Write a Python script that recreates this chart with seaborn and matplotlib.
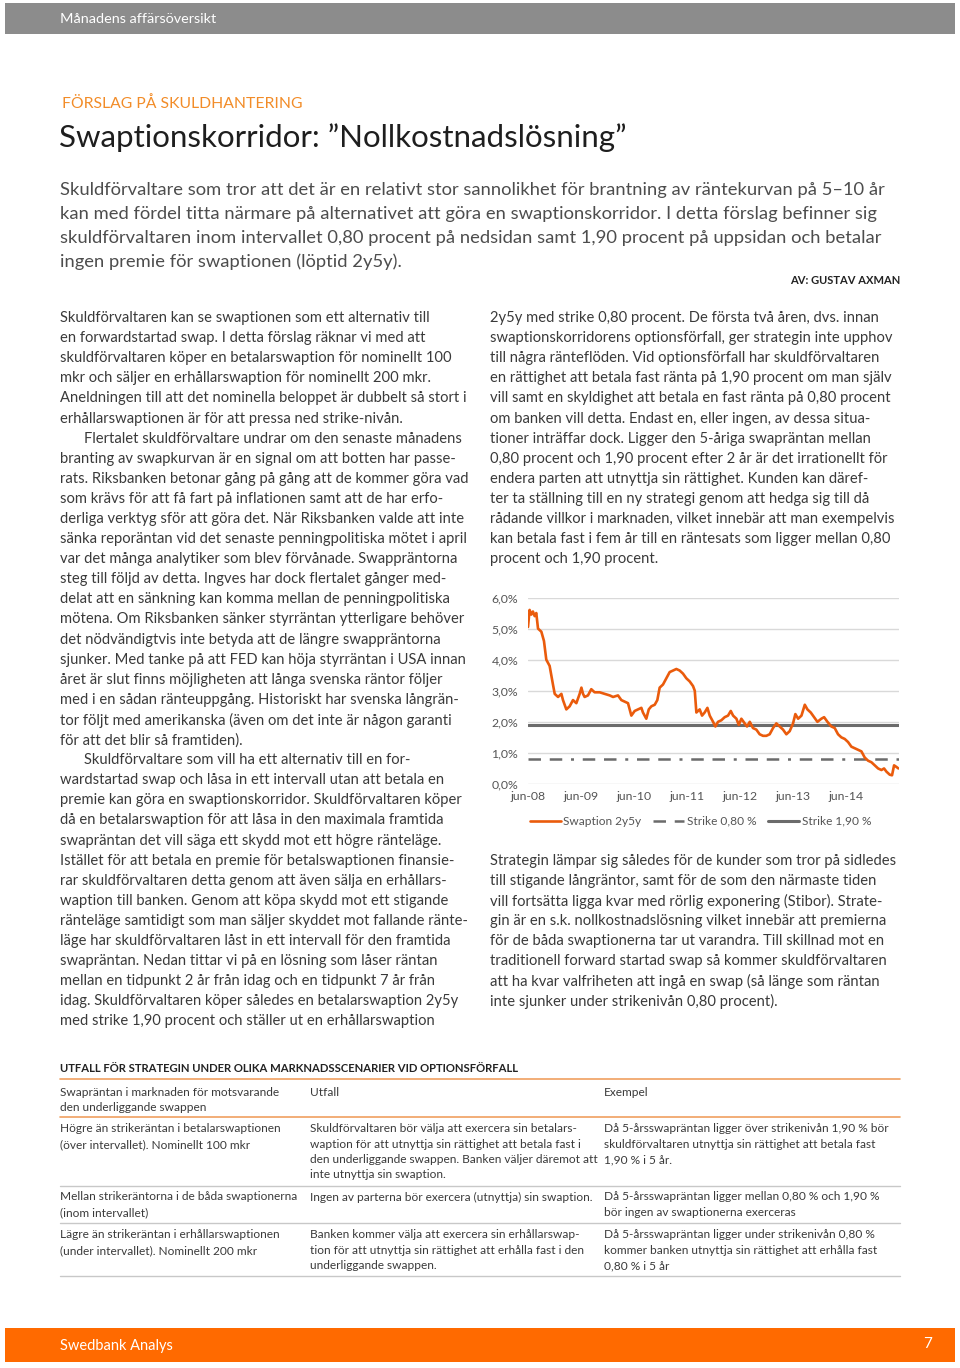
import pandas as pd
import matplotlib.pyplot as plt
from matplotlib.ticker import FuncFormatter
from matplotlib.patches import Rectangle
from matplotlib.lines import Line2D
import seaborn as sns

sns.set_style("white")
plt.rcParams['font.family'] = ['Lato', 'DejaVu Sans']

# --- chart data ---
swap_dates = [
    '2008-06-01', '2008-06-12', '2008-06-24', '2008-07-05', '2008-07-17', '2008-07-28',
    '2008-08-09', '2008-09-01', '2008-09-19', '2008-10-05', '2008-10-28', '2008-11-20',
    '2008-12-02', '2008-12-25', '2009-01-17', '2009-01-28', '2009-02-20', '2009-03-15',
    '2009-04-07', '2009-04-30', '2009-05-23', '2009-06-04', '2009-06-15', '2009-06-26',
    '2009-07-19', '2009-08-11', '2009-09-03', '2009-10-08', '2009-11-11', '2009-12-16',
    '2010-01-08', '2010-02-11', '2010-03-06', '2010-03-29', '2010-04-21', '2010-05-14',
    '2010-06-06', '2010-06-29', '2010-07-22', '2010-08-02', '2010-08-25', '2010-09-11',
    '2010-09-29', '2010-10-22', '2010-11-09', '2010-11-25', '2010-12-18', '2011-01-10',
    '2011-02-02', '2011-02-25', '2011-03-20', '2011-04-12', '2011-05-05', '2011-05-28',
    '2011-06-20', '2011-07-13', '2011-07-25', '2011-08-05', '2011-08-28', '2011-09-13',
    '2011-10-01', '2011-10-20', '2011-11-05', '2011-11-28', '2011-12-14', '2012-01-01',
    '2012-01-24', '2012-02-16', '2012-03-10', '2012-03-29', '2012-04-14', '2012-05-07',
    '2012-05-23', '2012-06-10', '2012-07-03', '2012-07-19', '2012-08-07', '2012-08-29',
    '2012-09-21', '2012-10-14', '2012-11-06', '2012-11-29', '2012-12-22', '2013-01-14',
    '2013-02-06', '2013-03-01', '2013-03-24', '2013-04-16', '2013-05-09', '2013-06-01',
    '2013-06-17', '2013-07-06', '2013-07-29', '2013-08-21', '2013-09-08', '2013-10-01',
    '2013-10-24', '2013-11-16', '2013-12-13', '2014-01-01', '2014-01-24', '2014-02-20',
    '2014-03-15', '2014-04-07', '2014-04-30', '2014-05-23', '2014-06-15', '2014-07-08',
    '2014-07-31', '2014-08-23', '2014-09-15', '2014-10-08', '2014-10-31', '2014-11-23',
    '2014-12-16', '2015-01-08', '2015-01-31', '2015-02-18', '2015-03-06', '2015-03-29',
    '2015-04-14', '2015-04-28', '2015-05-14', '2015-05-28',
]
swap_values = [
    5.05, 5.60, 5.45, 5.55, 5.40, 5.50,
    5.00, 4.90, 4.60, 4.00, 3.80, 3.20,
    2.90, 2.80, 2.90, 2.70, 2.40, 2.50,
    2.70, 2.60, 2.90, 3.10, 2.90, 2.80,
    2.85, 3.05, 2.95, 2.95, 2.90, 2.85,
    2.80, 2.85, 2.70, 2.65, 2.60, 2.20,
    2.35, 2.40, 2.45, 2.30, 2.10, 2.40,
    2.50, 2.55, 2.70, 3.10, 3.20, 3.40,
    3.60, 3.65, 3.70, 3.65, 3.55, 3.40,
    3.30, 3.15, 3.00, 2.30, 2.40, 2.20,
    2.30, 2.45, 2.20, 2.00, 1.85, 2.00,
    2.05, 2.15, 2.20, 2.35, 2.20, 2.10,
    1.90, 2.10, 1.95, 1.85, 2.00, 1.80,
    1.75, 1.60, 1.55, 1.55, 1.60, 1.80,
    1.95, 1.85, 1.75, 1.60, 1.70, 1.95,
    2.25, 2.10, 2.20, 2.55, 2.40, 2.30,
    2.15, 2.00, 2.10, 2.15, 2.00, 1.85,
    1.80, 1.60, 1.50, 1.45, 1.35, 1.20,
    1.15, 1.10, 1.05, 0.85, 0.75, 0.70,
    0.60, 0.50, 0.45, 0.50, 0.40, 0.30,
    0.28, 0.60, 0.55, 0.50,
]
strike_low = 0.80
strike_high = 1.90
period = ['2008-06-01', '2015-06-01']
tick_dates = ['2008-06-01', '2009-06-01', '2010-06-01', '2011-06-01',
              '2012-06-01', '2013-06-01', '2014-06-01']
tick_labels = ['jun-08', 'jun-09', 'jun-10', 'jun-11', 'jun-12', 'jun-13', 'jun-14']
y_ticks = [0, 1, 2, 3, 4, 5, 6]
legend_labels = ['Swaption 2y5y', 'Strike 0,80 %', 'Strike 1,90 %']

# --- page text ---
header_text = 'Månadens affärsöversikt'
kicker = 'FÖRSLAG PÅ SKULDHANTERING'
title = 'Swaptionskorridor: ”Nollkostnadslösning”'
intro_lines = [
    'Skuldförvaltare som tror att det är en relativt stor sannolikhet för brantning av räntekurvan på 5–10 år',
    'kan med fördel titta närmare på alternativet att göra en swaptionskorridor. I detta förslag befinner sig',
    'skuldförvaltaren inom intervallet 0,80 procent på nedsidan samt 1,90 procent på uppsidan och betalar',
    'ingen premie för swaptionen (löptid 2y5y).',
]
byline = 'AV: GUSTAV AXMAN'

left_lines = [
    'Skuldförvaltaren kan se swaptionen som ett alternativ till',
    'en forwardstartad swap. I detta förslag räknar vi med att',
    'skuldförvaltaren köper en betalarswaption för nominellt 100',
    'mkr och säljer en erhållarswaption för nominellt 200 mkr.',
    'Aneldningen till att det nominella beloppet är dubbelt så stort i',
    'erhållarswaptionen är för att pressa ned strike-nivån.',
    'Flertalet skuldförvaltare undrar om den senaste månadens',
    'branting av swapkurvan är en signal om att botten har passe-',
    'rats. Riksbanken betonar gång på gång att de kommer göra vad',
    'som krävs för att få fart på inflationen samt att de har erfo-',
    'derliga verktyg sför att göra det. När Riksbanken valde att inte',
    'sänka reporäntan vid det senaste penningpolitiska mötet i april',
    'var det många analytiker som blev förvånade. Swappräntorna',
    'steg till följd av detta. Ingves har dock flertalet gånger med-',
    'delat att en sänkning kan komma mellan de penningpolitiska',
    'mötena. Om Riksbanken sänker styrräntan ytterligare behöver',
    'det nödvändigtvis inte betyda att de längre swappräntorna',
    'sjunker. Med tanke på att FED kan höja styrräntan i USA innan',
    'året är slut finns möjligheten att långa svenska räntor följer',
    'med i en sådan ränteuppgång. Historiskt har svenska långrän-',
    'tor följt med amerikanska (även om det inte är någon garanti',
    'för att det blir så framtiden).',
    'Skuldförvaltare som vill ha ett alternativ till en for-',
    'wardstartad swap och låsa in ett intervall utan att betala en',
    'premie kan göra en swaptionskorridor. Skuldförvaltaren köper',
    'då en betalarswaption för att låsa in den maximala framtida',
    'swapräntan det vill säga ett skydd mot ett högre ränteläge.',
    'Istället för att betala en premie för betalswaptionen finansie-',
    'rar skuldförvaltaren detta genom att även sälja en erhållars-',
    'waption till banken. Genom att köpa skydd mot ett stigande',
    'ränteläge samtidigt som man säljer skyddet mot fallande ränte-',
    'läge har skuldförvaltaren låst in ett intervall för den framtida',
    'swapräntan. Nedan tittar vi på en lösning som låser räntan',
    'mellan en tidpunkt 2 år från idag och en tidpunkt 7 år från',
    'idag. Skuldförvaltaren köper således en betalarswaption 2y5y',
    'med strike 1,90 procent och ställer ut en erhållarswaption',
]
left_indented = [6, 22]

right_lines_top = [
    '2y5y med strike 0,80 procent. De första två åren, dvs. innan',
    'swaptionskorridorens optionsförfall, ger strategin inte upphov',
    'till några ränteflöden. Vid optionsförfall har skuldförvaltaren',
    'en rättighet att betala fast ränta på 1,90 procent om man själv',
    'vill samt en skyldighet att betala en fast ränta på 0,80 procent',
    'om banken vill detta. Endast en, eller ingen, av dessa situa-',
    'tioner inträffar dock. Ligger den 5-åriga swapräntan mellan',
    '0,80 procent och 1,90 procent efter 2 år är det irrationellt för',
    'endera parten att utnyttja sin rättighet. Kunden kan däref-',
    'ter ta ställning till en ny strategi genom att hedga sig till då',
    'rådande villkor i marknaden, vilket innebär att man exempelvis',
    'kan betala fast i fem år till en räntesats som ligger mellan 0,80',
    'procent och 1,90 procent.',
]
right_lines_bottom = [
    'Strategin lämpar sig således för de kunder som tror på sidledes',
    'till stigande långräntor, samt för de som den närmaste tiden',
    'vill fortsätta ligga kvar med rörlig exponering (Stibor). Strate-',
    'gin är en s.k. nollkostnadslösning vilket innebär att premierna',
    'för de båda swaptionerna tar ut varandra. Till skillnad mot en',
    'traditionell forward startad swap så kommer skuldförvaltaren',
    'att ha kvar valfriheten att ingå en swap (så länge som räntan',
    'inte sjunker under strikenivån 0,80 procent).',
]

table_title = 'UTFALL FÖR STRATEGIN UNDER OLIKA MARKNADSSCENARIER VID OPTIONSFÖRFALL'
table_header = [
    ['Swapräntan i marknaden för motsvarande', 'den underliggande swappen'],
    ['Utfall'],
    ['Exempel'],
]
table_rows = [
    [['Högre än strikeräntan i betalarswaptionen', '(över intervallet). Nominellt 100 mkr'],
     ['Skuldförvaltaren bör välja att exercera sin betalars-',
      'waption för att utnyttja sin rättighet att betala fast i',
      'den underliggande swappen. Banken väljer däremot att',
      'inte utnyttja sin swaption.'],
     ['Då 5-årsswapräntan ligger över strikenivån 1,90 % bör',
      'skuldförvaltaren utnyttja sin rättighet att betala fast',
      '1,90 % i 5 år.']],
    [['Mellan strikeräntorna i de båda swaptionerna', '(inom intervallet)'],
     ['Ingen av parterna bör exercera (utnyttja) sin swaption.'],
     ['Då 5-årsswapräntan ligger mellan 0,80 % och 1,90 %',
      'bör ingen av swaptionerna exerceras']],
    [['Lägre än strikeräntan i erhållarswaptionen', '(under intervallet). Nominellt 200 mkr'],
     ['Banken kommer välja att exercera sin erhållarswap-',
      'tion för att utnyttja sin rättighet att erhålla fast i den',
      'underliggande swappen.'],
     ['Då 5-årsswapräntan ligger under strikenivån 0,80 %',
      'kommer banken utnyttja sin rättighet att erhålla fast',
      '0,80 % i 5 år']],
]
footer_text = 'Swedbank Analys'
page_no = '7'

# --- colours ---
LINE_ORANGE = '#ea5b0c'
GREY_BAR = '#8c8c8c'
STRIKE_GREY = '#6b6b6b'
BODY = '#3a3a3a'

W, H = 960, 1368
fig = plt.figure(figsize=(W / 100, H / 100), dpi=100)
fig.patch.set_facecolor('white')


def put(x, y, s, **kw):
    kw.setdefault('va', 'center')
    fig.text(x / W, 1 - y / H, s, **kw)


def hline(x0, x1, y, color, lw=1.0):
    fig.add_artist(Line2D([x0 / W, x1 / W], [1 - y / H, 1 - y / H], color=color, lw=lw))


def box(x0, y0, x1, y1, color):
    fig.add_artist(Rectangle((x0 / W, 1 - y1 / H), (x1 - x0) / W, (y1 - y0) / H,
                             facecolor=color, edgecolor='none'))


# header / footer bars
box(5, 3, 955, 34, GREY_BAR)
put(60, 19, header_text, color='white', fontsize=10.4)
box(5, 1328, 955, 1362, '#ff6a00')
put(60, 1346, footer_text, color='white', fontsize=10.5)
put(932, 1344, page_no, color='white', fontsize=11, ha='right')

# headline block
put(62, 104, kicker, color='#f28c28', fontsize=11.3)
put(59, 138, title, color='#1e1e1e', fontsize=22.5)
for i, line in enumerate(intro_lines):
    put(60, 190 + 24 * i, line, color='#4d4d4d', fontsize=13.2)
put(900, 280, byline, color='#222222', fontsize=8, fontweight='bold', ha='right')

# body columns
BODY_SIZE = 10.6
for i, line in enumerate(left_lines):
    x = 84 if i in left_indented else 60
    put(x, 318 + 20.1 * i, line, color=BODY, fontsize=BODY_SIZE)
for i, line in enumerate(right_lines_top):
    put(490, 318 + 20.1 * i, line, color=BODY, fontsize=BODY_SIZE)
for i, line in enumerate(right_lines_bottom):
    put(490, 861 + 20.1 * i, line, color=BODY, fontsize=BODY_SIZE)

# --- chart ---
ax = fig.add_axes([528 / W, 1 - 784 / H, (899 - 528) / W, (784 - 597.5) / H])
swap = pd.DataFrame({'date': pd.to_datetime(swap_dates), 'rate': swap_values})
strikes = pd.DataFrame({'date': pd.to_datetime(period),
                        'low': [strike_low] * 2, 'high': [strike_high] * 2})

sns.lineplot(data=strikes, x='date', y='high', color=STRIKE_GREY, lw=2.2, ax=ax)
h_high = ax.lines[-1]
sns.lineplot(data=strikes, x='date', y='low', color=STRIKE_GREY, lw=1.8, ax=ax)
h_low = ax.lines[-1]
h_low.set_dashes([5, 3.5, 5, 3.5, 1.2, 3.5])
sns.lineplot(data=swap, x='date', y='rate', color=LINE_ORANGE, lw=1.9, ax=ax)
h_swap = ax.lines[-1]

ax.set_xlim(pd.Timestamp(period[0]), pd.Timestamp(period[1]))
ax.set_ylim(0, 6)
ax.set_xticks(pd.to_datetime(tick_dates))
ax.set_xticklabels(tick_labels)
ax.set_yticks(y_ticks)
ax.yaxis.set_major_formatter(FuncFormatter(lambda v, p: f'{v:.1f}%'.replace('.', ',')))
ax.set_xlabel('')
ax.set_ylabel('')
ax.yaxis.grid(True, color='#d9d9d9', lw=1)
ax.xaxis.grid(False)
for s in ax.spines.values():
    s.set_visible(False)
ax.tick_params(axis='both', length=0, labelsize=8.8, colors='#555555')
ax.tick_params(axis='x', pad=5)
ax.tick_params(axis='y', pad=7)
ax.legend([h_swap, h_low, h_high], legend_labels, loc='center', bbox_to_anchor=(0.465, -0.2),
          ncol=3, frameon=False, fontsize=8.6, labelcolor='#555555',
          handlelength=2.6, handletextpad=0.2, columnspacing=1.0)

# --- table ---
TBL = 8.6
put(60, 1068, table_title, color='#222222', fontsize=8.1, fontweight='bold')
hline(60, 900, 1079, '#f0a060', 1.2)
col_x = [60, 310, 604]
for cx, cell in zip(col_x, table_header):
    for j, line in enumerate(cell):
        put(cx, 1092 + 15.3 * j, line, color=BODY, fontsize=TBL)
hline(60, 900, 1117, '#f0a060', 1.2)

row_tops = [1129, 1197, 1235]
row_lines = [1186, 1223, 1276]
for top, bottom, row in zip(row_tops, row_lines, table_rows):
    for cx, cell in zip(col_x, row):
        for j, line in enumerate(cell):
            put(cx, top + 15.3 * j, line, color=BODY, fontsize=TBL)
    hline(60, 900, bottom, '#c8c8c8', 1.0)

fig.savefig('out.png', dpi=100)
